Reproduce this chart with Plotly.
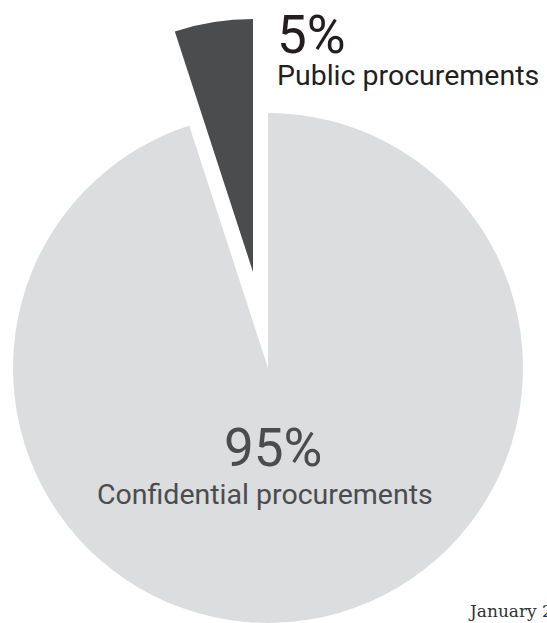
import plotly.graph_objects as go

W, H = 547, 623

categories = ["Confidential procurements", "Public procurements"]
shares = [95, 5]
pct_labels = ["95%", "5%"]
footer = "January 2021"

LIGHT = "#dcdddf"
DARK = "#4b4c4e"
CLEAR = "rgba(0,0,0,0)"

fig = go.Figure()

# main (light) pie, dark slice left transparent
fig.add_trace(go.Pie(
    labels=categories, values=shares, sort=False, direction="clockwise",
    rotation=0, textinfo="none", hoverinfo="skip", showlegend=False,
    marker=dict(colors=[LIGHT, CLEAR], line=dict(width=0)),
    domain=dict(x=[13 / W, 523 / W], y=[0, 510 / H]),
))
# exploded (dark) slice, drawn as same pie offset along its bisector
fig.add_trace(go.Pie(
    labels=categories, values=shares, sort=False, direction="clockwise",
    rotation=0, textinfo="none", hoverinfo="skip", showlegend=False,
    marker=dict(colors=[CLEAR, DARK], line=dict(width=0)),
    domain=dict(x=[0, 506 / W], y=[(H - 272 - 253) / H, (H - 272 + 253) / H]),
))

FONT = "Roboto"
ann = [
    dict(text=pct_labels[1], x=276 / W, y=(H - 35) / H, xanchor="left", yanchor="middle",
         font=dict(family=FONT, size=53, color="#231f20")),
    dict(text=categories[1], x=276 / W, y=(H - 75) / H, xanchor="left", yanchor="middle",
         font=dict(family=FONT, size=28.5, color="#231f20")),
    dict(text=pct_labels[0], x=273 / W, y=(H - 448) / H, xanchor="center", yanchor="middle",
         font=dict(family=FONT, size=53, color=DARK)),
    dict(text=categories[0], x=265 / W, y=(H - 494) / H, xanchor="center", yanchor="middle",
         font=dict(family=FONT, size=28.5, color=DARK)),
    dict(text=footer, x=467 / W, y=(H - 611) / H, xanchor="left", yanchor="middle",
         font=dict(family="DejaVu Serif", size=17, color="#333333")),
]
for a in ann:
    a.update(xref="paper", yref="paper", showarrow=False, borderpad=0)

fig.update_layout(
    width=W, height=H, margin=dict(l=0, r=0, t=0, b=0),
    paper_bgcolor="white", plot_bgcolor="white", annotations=ann,
)

fig.write_html("out.html")
